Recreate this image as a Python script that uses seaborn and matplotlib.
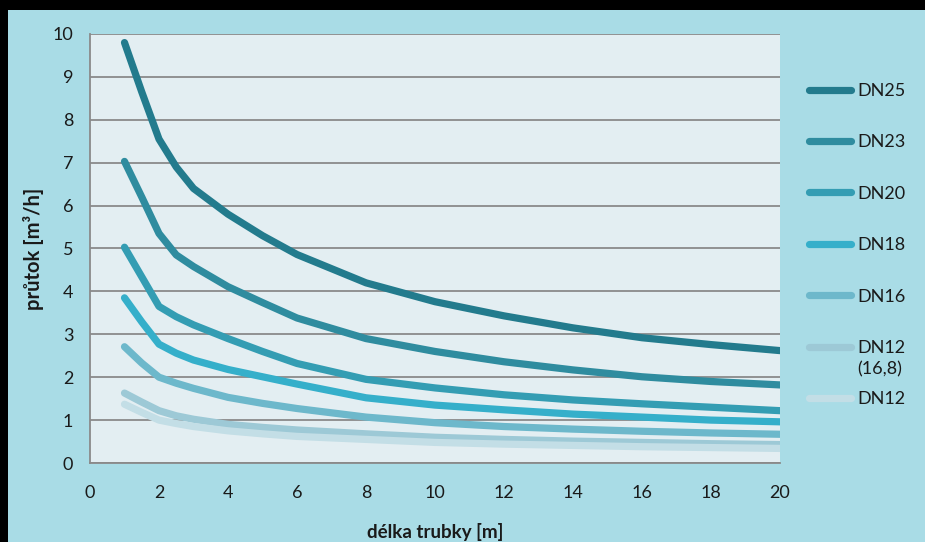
import matplotlib
matplotlib.use("Agg")
import matplotlib.pyplot as plt
import seaborn as sns
import pandas as pd
from matplotlib.patches import Rectangle
from matplotlib.lines import Line2D
from matplotlib.text import Annotation

# ---- data ----
length_m = [1, 1.5, 2, 2.5, 3, 4, 5, 6, 8, 10, 12, 14, 16, 18, 20]
dn25 = [9.8, 8.65, 7.55, 6.9, 6.4, 5.8, 5.3, 4.86, 4.2, 3.76, 3.43, 3.15, 2.92, 2.76, 2.62]
dn23 = [7.03, 6.2, 5.35, 4.85, 4.58, 4.11, 3.74, 3.38, 2.9, 2.6, 2.36, 2.17, 2.01, 1.9, 1.82]
dn20 = [5.03, 4.34, 3.65, 3.41, 3.22, 2.9, 2.6, 2.32, 1.95, 1.75, 1.59, 1.47, 1.38, 1.3, 1.22]
dn18 = [3.85, 3.29, 2.77, 2.56, 2.4, 2.18, 2.01, 1.84, 1.52, 1.35, 1.24, 1.14, 1.07, 1.0, 0.96]
dn16 = [2.71, 2.33, 2.0, 1.86, 1.74, 1.53, 1.39, 1.27, 1.07, 0.94, 0.85, 0.79, 0.74, 0.70, 0.67]
dn12_168 = [1.63, 1.42, 1.22, 1.1, 1.02, 0.9, 0.83, 0.77, 0.68, 0.6, 0.55, 0.51, 0.48, 0.45, 0.43]
dn12 = [1.37, 1.18, 1.0, 0.92, 0.85, 0.75, 0.68, 0.62, 0.55, 0.48, 0.44, 0.41, 0.38, 0.36, 0.34]

series_names = ["DN25", "DN23", "DN20", "DN18", "DN16", "DN12 (16,8)", "DN12"]
series_values = [dn25, dn23, dn20, dn18, dn16, dn12_168, dn12]
legend_labels = ["DN25", "DN23", "DN20", "DN18", "DN16", "DN12", "DN12"]
legend_extra = "(16,8)"
colors = ["#237b8d", "#2f8c9f", "#349db3", "#35afca", "#6db8cb", "#9dc9d6", "#c3dee6"]

x_ticks = [0, 2, 4, 6, 8, 10, 12, 14, 16, 18, 20]
y_ticks = [0, 1, 2, 3, 4, 5, 6, 7, 8, 9, 10]

rows = []
for name, vals in zip(series_names, series_values):
    for xv, yv in zip(length_m, vals):
        rows.append({"délka": xv, "průtok": yv, "série": name})
df = pd.DataFrame(rows)

sns.set_theme(style="white")
plt.rcParams["font.family"] = ["Lato", "DejaVu Sans"]
TXT = "#1a1a1a"

fig = plt.figure(figsize=(9.25, 5.42), dpi=100)
fig.patch.set_facecolor("black")
fig.patches.append(Rectangle((8 / 925, 0), 1, 1 - 10 / 542, transform=fig.transFigure,
                             facecolor="#a9dce6", edgecolor="none", zorder=-10))
ax = fig.add_axes([90 / 925, 1 - 463 / 542, 690 / 925, 429 / 542])
ax.set_facecolor("#e3eef2")

sns.lineplot(data=df, x="délka", y="průtok", hue="série", hue_order=series_names,
             palette=colors, linewidth=5.2, ax=ax, legend=False)
for ln in ax.lines:
    ln.set_solid_capstyle("round")
    ln.set_solid_joinstyle("round")

ax.set_xlim(0, 20)
ax.set_ylim(0, 10)
ax.set_xticks(x_ticks)
ax.set_yticks(y_ticks)
ax.grid(axis="y", color="#8a8a8a", linewidth=1.3)
ax.grid(axis="x", visible=False)
ax.set_axisbelow(True)
for s in ["top", "right"]:
    ax.spines[s].set_visible(False)
for s in ["left", "bottom"]:
    ax.spines[s].set_color("#8a8a8a")
    ax.spines[s].set_linewidth(1.3)
ax.tick_params(axis="both", which="both", direction="out", length=5, width=1.3,
               color="#8a8a8a", labelsize=13, labelcolor=TXT)
ax.tick_params(axis="x", pad=11)
ax.tick_params(axis="y", pad=7)

ax.set_xlabel("délka trubky [m]", fontsize=13.5, fontweight="bold", color=TXT)
ax.set_ylabel("průtok [m³/h]", fontsize=14.5, fontweight="bold", color=TXT)
ax.xaxis.label.set_va("center")
ax.yaxis.label.set_va("center")
ax.xaxis.set_label_coords(0.5, -(532 - 463) / 429)
ax.yaxis.set_label_coords((33 - 90) / 690, 0.5)

handles = [Line2D([0], [0], color=c, linewidth=5.2, solid_capstyle="round") for c in colors]
leg = fig.legend(handles, legend_labels, loc="upper left",
                 bbox_to_anchor=(809 / 925, 1 - 83 / 542),
                 frameon=False, fontsize=13, handlelength=2.3, handletextpad=0.4,
                 labelspacing=1.96, borderaxespad=0, borderpad=0)
for t in leg.get_texts():
    t.set_color(TXT)
extra = Annotation(legend_extra, xy=(0, 0), xycoords=leg.get_texts()[5], xytext=(0, -4),
                   textcoords="offset points", ha="left", va="top", fontsize=13, color=TXT,
                   annotation_clip=False)
extra.set_zorder(20)
fig.add_artist(extra)

fig.savefig("out.png", dpi=100, facecolor=fig.get_facecolor())
